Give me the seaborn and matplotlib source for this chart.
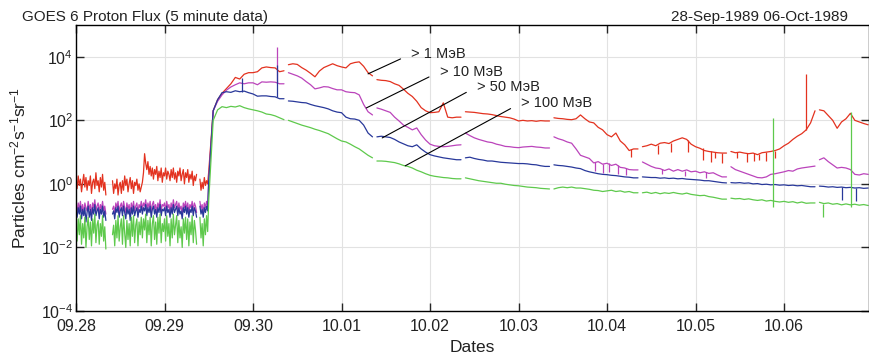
import numpy as np
import pandas as pd
import matplotlib
matplotlib.use("Agg")
import matplotlib.pyplot as plt
import seaborn as sns

# GOES 6 proton channels, values are log10 of the flux
channels = ["> 1 МэВ", "> 10 МэВ", "> 50 МэВ", "> 100 МэВ"]
colors = ["#e3321f", "#bb44bb", "#28389a", "#5ec94c"]
date_labels = ["09.28", "09.29", "09.30", "10.01", "10.02",
               "10.03", "10.04", "10.05", "10.06"]

# daily data gaps (days after 28-Sep 00:00)
gap_start = [0.35, 1.37, 2.36, 3.36, 4.36, 5.36, 6.36, 7.36, 8.36]
gap_end = [0.41, 1.39, 2.39, 3.39, 4.39, 5.39, 6.39, 7.39, 8.39]

# quiet part: 28-Sep 00:00 .. 29-Sep 11:42, every 0.0125 day
red_quiet = [0.10, -0.15, 0.25, -0.05, 0.15, -0.25, 0.05, 0.30, -0.10, 0.20,
             -0.20, 0.10, -0.05, 0.25, -0.30, 0.05, 0.15, -0.15, 0.35, -0.05,
             0.10, -0.25, 0.20, -0.10, 0.30, -0.20, 0.05, -0.35, 0.15, 0.00,
             -0.10, 0.05, -0.25, 0.10, -0.30, 0.00, -0.15, 0.15, -0.35, -0.05,
             0.05, -0.30, 0.10, -0.20, 0.25, -0.05, 0.15, -0.25, 0.00, 0.20,
             -0.15, 0.10, -0.30, 0.05, -0.05, 0.15, -0.20, 0.00, -0.25, -0.10,
             0.05, 0.35, 0.95, 0.65, 0.45, 0.70, 0.30, 0.55, 0.25, 0.50,
             0.15, 0.45, 0.30, 0.55, 0.10, 0.40, 0.20, 0.50, 0.05, 0.35,
             0.25, 0.50, 0.15, 0.40, 0.30, 0.10, 0.45, 0.20, 0.50, 0.15,
             0.35, 0.05, 0.40, 0.25, 0.50, 0.10, 0.30, 0.45, 0.00, 0.35,
             0.20, 0.45, 0.05, 0.30, 0.15, 0.40, -0.05, 0.25, 0.10, 0.30,
             0.10, -0.10, 0.15, -0.20, 0.05, -0.15, 0.20, -0.05, 0.10, 0.00]
mag_quiet = [-0.70, -0.90, -0.60, -0.80, -0.55, -0.85, -0.65, -0.95, -0.60, -0.75,
             -0.85, -0.55, -0.80, -0.65, -0.95, -0.60, -0.75, -0.50, -0.85, -0.70,
             -0.60, -0.90, -0.65, -0.80, -0.55, -0.85, -0.70, -0.95, -0.60, -0.75,
             -0.65, -0.85, -0.55, -0.80, -0.70, -0.95, -0.60, -0.75, -0.55, -0.90,
             -0.70, -0.60, -0.85, -0.55, -0.75, -0.90, -0.60, -0.80, -0.65, -0.95,
             -0.60, -0.80, -0.55, -0.85, -0.70, -0.60, -0.90, -0.65, -0.75, -0.55,
             -0.80, -0.60, -0.70, -0.50, -0.85, -0.60, -0.75, -0.55, -0.90, -0.65,
             -0.55, -0.80, -0.65, -0.90, -0.60, -0.75, -0.50, -0.85, -0.65, -0.70,
             -0.60, -0.85, -0.55, -0.75, -0.65, -0.90, -0.60, -0.80, -0.50, -0.75,
             -0.65, -0.55, -0.85, -0.60, -0.80, -0.70, -0.95, -0.60, -0.75, -0.55,
             -0.80, -0.60, -0.90, -0.65, -0.75, -0.55, -0.85, -0.60, -0.70, -0.90,
             -0.60, -0.85, -0.55, -0.80, -0.65, -0.90, -0.60, -0.75, -0.55, -0.70]
blue_quiet = [-0.85, -1.05, -0.75, -0.95, -0.70, -1.10, -0.80, -1.00, -0.75, -1.20,
              -0.90, -0.70, -1.05, -0.80, -1.15, -0.75, -0.95, -0.65, -1.00, -0.85,
              -0.75, -1.10, -0.80, -0.95, -0.70, -1.05, -0.85, -1.15, -0.75, -0.90,
              -0.80, -1.00, -0.70, -0.95, -0.85, -1.10, -0.75, -0.90, -0.70, -1.05,
              -0.85, -0.75, -1.00, -0.70, -0.90, -1.10, -0.75, -0.95, -0.80, -1.15,
              -0.75, -0.95, -0.70, -1.00, -0.85, -0.75, -1.05, -0.80, -0.90, -0.70,
              -0.95, -0.75, -0.85, -0.65, -1.00, -0.75, -0.90, -0.70, -1.05, -0.80,
              -0.70, -0.95, -0.80, -1.05, -0.75, -0.90, -0.65, -1.00, -0.80, -0.85,
              -0.75, -1.00, -0.70, -0.90, -0.80, -1.05, -0.75, -0.95, -0.65, -0.90,
              -0.80, -0.70, -1.00, -0.75, -0.95, -0.85, -1.10, -0.75, -0.90, -0.70,
              -0.95, -0.75, -1.05, -0.80, -0.90, -0.70, -1.00, -0.75, -0.85, -1.05,
              -0.75, -1.00, -0.70, -0.95, -0.80, -1.05, -0.75, -0.90, -0.70, -0.85]
green_quiet = [-1.30, -1.80, -1.10, -1.60, -1.00, -1.90, -1.25, -1.70, -1.05, -2.00,
               -1.35, -1.05, -1.75, -1.20, -1.95, -1.10, -1.55, -0.95, -1.85, -1.30,
               -1.15, -1.90, -1.25, -1.65, -1.00, -1.80, -1.35, -2.05, -1.10, -1.50,
               -1.25, -1.85, -1.05, -1.60, -1.30, -1.95, -1.15, -1.70, -1.00, -1.80,
               -1.35, -1.10, -1.90, -1.00, -1.55, -2.00, -1.15, -1.75, -1.25, -1.95,
               -1.05, -1.65, -1.00, -1.85, -1.30, -1.10, -1.95, -1.20, -1.60, -1.05,
               -1.70, -1.10, -1.45, -0.95, -1.85, -1.15, -1.60, -1.05, -1.95, -1.25,
               -1.00, -1.75, -1.20, -1.90, -1.05, -1.55, -0.95, -1.85, -1.25, -1.50,
               -1.10, -1.80, -1.00, -1.65, -1.25, -1.95, -1.10, -1.70, -0.95, -1.60,
               -1.30, -1.00, -1.85, -1.15, -1.70, -1.35, -2.00, -1.10, -1.55, -1.05,
               -1.75, -1.10, -1.95, -1.20, -1.60, -1.00, -1.85, -1.15, -1.45, -1.90,
               -1.15, -1.80, -1.05, -1.70, -1.25, -1.95, -1.10, -1.60, -1.00, -1.50]

# event part: 29-Sep 12:00 .. 06-Oct 22:48, every 0.05 day
red_event = [0.40, 2.30, 2.65, 2.85, 3.00, 3.15, 3.35, 3.30, 3.45, 3.50,
             3.50, 3.53, 3.65, 3.68, 3.66, 3.65, 3.53, 3.56, 3.75, 3.78,
             3.76, 3.66, 3.58, 3.48, 3.37, 3.55, 3.66, 3.72, 3.78, 3.72,
             3.68, 3.65, 3.78, 3.82, 3.84, 3.70, 3.50, 3.40, 3.28, 3.26,
             3.25, 3.22, 3.15, 3.10, 2.98, 2.85, 2.75, 2.60, 2.40, 2.30,
             2.24, 2.25, 2.27, 2.55, 2.10, 2.08, 2.10, 2.10, 2.27, 2.26,
             2.25, 2.23, 2.21, 2.20, 2.18, 2.15, 2.12, 2.10, 2.08, 2.04,
             1.98, 2.00, 1.98, 1.99, 1.97, 1.99, 1.98, 1.98, 2.08, 2.06,
             2.05, 2.03, 2.02, 2.05, 2.17, 2.05, 1.95, 1.92, 1.78, 1.70,
             1.55, 1.48, 1.60, 1.35, 1.23, 1.05, 1.10, 1.10, 1.17, 1.20,
             1.25, 1.20, 1.28, 1.30, 1.27, 1.35, 1.40, 1.45, 1.40, 1.25,
             1.17, 1.12, 1.05, 1.02, 1.00, 0.98, 0.97, 0.97, 1.02, 0.98,
             1.00, 0.97, 0.95, 0.97, 0.92, 0.98, 1.00, 1.02, 1.05, 1.10,
             1.20, 1.28, 1.40, 1.50, 1.58, 1.70, 1.92, 2.30, 2.33, 2.30,
             2.15, 2.00, 1.75, 1.95, 2.05, 2.22, 2.00, 1.95, 1.90, 1.86]
mag_event = [0.20, 2.30, 2.60, 2.80, 2.95, 3.05, 3.12, 3.18, 3.15, 3.18,
             3.18, 3.12, 3.21, 3.20, 3.21, 3.20, 3.15, 3.15, 3.50, 3.45,
             3.40, 3.33, 3.22, 3.12, 2.99, 3.02, 3.06, 3.05, 3.00, 2.96,
             2.96, 2.90, 2.88, 2.87, 2.80, 2.50, 2.27, 2.17, 2.39, 2.35,
             2.30, 2.25, 2.10, 1.98, 1.85, 1.78, 1.70, 1.76, 1.55, 1.38,
             1.25, 1.20, 1.18, 1.17, 1.18, 1.20, 1.22, 1.23, 1.60, 1.52,
             1.45, 1.40, 1.36, 1.32, 1.30, 1.25, 1.22, 1.18, 1.17, 1.15,
             1.14, 1.16, 1.17, 1.18, 1.16, 1.15, 1.13, 1.13, 1.48, 1.42,
             1.38, 1.32, 1.28, 1.10, 0.90, 0.85, 0.80, 0.66, 0.70, 0.62,
             0.65, 0.58, 0.62, 0.52, 0.50, 0.45, 0.44, 0.44, 0.69, 0.62,
             0.55, 0.50, 0.48, 0.42, 0.47, 0.40, 0.45, 0.40, 0.44, 0.38,
             0.40, 0.35, 0.38, 0.33, 0.35, 0.28, 0.22, 0.22, 0.54, 0.45,
             0.40, 0.35, 0.30, 0.25, 0.20, 0.19, 0.22, 0.30, 0.32, 0.35,
             0.38, 0.42, 0.40, 0.47, 0.50, 0.52, 0.54, 0.56, 0.76, 0.82,
             0.70, 0.60, 0.50, 0.52, 0.50, 0.45, 0.30, 0.28, 0.32, 0.30]
blue_event = [0.10, 2.30, 2.65, 2.87, 2.90, 2.88, 2.93, 2.90, 2.92, 2.87,
              2.83, 2.76, 2.77, 2.77, 2.75, 2.74, 2.68, 2.68, 2.61, 2.60,
              2.58, 2.56, 2.55, 2.50, 2.46, 2.43, 2.40, 2.36, 2.30, 2.26,
              2.24, 2.10, 2.05, 2.04, 2.00, 1.85, 1.60, 1.48, 1.48, 1.50,
              1.48, 1.46, 1.40, 1.32, 1.26, 1.20, 1.17, 1.23, 1.10, 1.00,
              0.92, 0.88, 0.85, 0.82, 0.80, 0.78, 0.76, 0.76, 0.82, 0.84,
              0.80, 0.77, 0.75, 0.72, 0.72, 0.70, 0.68, 0.67, 0.66, 0.65,
              0.64, 0.64, 0.63, 0.61, 0.60, 0.57, 0.55, 0.55, 0.60, 0.58,
              0.57, 0.55, 0.53, 0.50, 0.48, 0.42, 0.38, 0.35, 0.32, 0.30,
              0.29, 0.27, 0.26, 0.24, 0.22, 0.21, 0.19, 0.19, 0.22, 0.21,
              0.20, 0.20, 0.18, 0.19, 0.17, 0.18, 0.16, 0.17, 0.15, 0.14,
              0.13, 0.12, 0.10, 0.10, 0.08, 0.06, 0.04, 0.03, 0.04, 0.03,
              0.04, 0.02, 0.03, 0.00, 0.01, -0.02, -0.01, -0.03, -0.02, -0.04,
              -0.03, -0.05, -0.04, -0.06, -0.05, -0.07, -0.09, -0.09, -0.07, -0.08,
              -0.10, -0.09, -0.11, -0.10, -0.12, -0.11, -0.13, -0.12, -0.14, -0.13]
green_event = [-0.50, 2.00, 2.33, 2.43, 2.40, 2.44, 2.42, 2.46, 2.40, 2.36,
               2.33, 2.30, 2.26, 2.20, 2.18, 2.14, 2.08, 2.02, 2.00, 1.95,
               1.90, 1.85, 1.81, 1.77, 1.72, 1.68, 1.63, 1.58, 1.50, 1.42,
               1.35, 1.32, 1.25, 1.17, 1.10, 1.00, 0.90, 0.82, 0.72, 0.72,
               0.71, 0.69, 0.67, 0.63, 0.58, 0.55, 0.50, 0.43, 0.38, 0.32,
               0.27, 0.24, 0.22, 0.20, 0.19, 0.17, 0.16, 0.16, 0.19, 0.16,
               0.13, 0.10, 0.08, 0.06, 0.04, 0.02, 0.02, -0.01, -0.03, -0.05,
               -0.06, -0.08, -0.10, -0.11, -0.12, -0.14, -0.15, -0.16, -0.16, -0.12,
               -0.10, -0.12, -0.10, -0.13, -0.13, -0.15, -0.17, -0.20, -0.21, -0.24,
               -0.22, -0.20, -0.24, -0.22, -0.26, -0.24, -0.28, -0.28, -0.28, -0.26,
               -0.30, -0.27, -0.31, -0.28, -0.30, -0.27, -0.30, -0.32, -0.29, -0.33,
               -0.35, -0.37, -0.36, -0.40, -0.42, -0.45, -0.48, -0.48, -0.45, -0.47,
               -0.46, -0.49, -0.47, -0.50, -0.52, -0.50, -0.54, -0.52, -0.55, -0.57,
               -0.55, -0.58, -0.56, -0.60, -0.57, -0.61, -0.60, -0.60, -0.58, -0.62,
               -0.60, -0.64, -0.62, -0.66, -0.63, -0.66, -0.64, -0.67, -0.65, -0.68]

# short single-sample spikes (day, log10 low, log10 high)
red_spk_day = [8.25, 6.27, 6.58, 6.72, 6.92, 7.08, 7.17, 7.22, 7.30, 7.47, 7.58, 7.66, 7.72, 7.80, 7.90]
red_spk_lo = [1.70, 0.85, 0.95, 1.00, 1.00, 0.75, 0.69, 0.80, 0.66, 0.80, 0.70, 0.72, 0.75, 0.72, 0.80]
red_spk_hi = [3.46, 1.10, 1.22, 1.28, 1.38, 1.12, 1.02, 1.00, 0.97, 1.00, 0.96, 0.97, 0.95, 1.00, 1.05]
mag_spk_day = [2.27, 5.86, 5.95, 6.02, 6.12, 6.22, 6.62, 6.88, 7.12]
mag_spk_lo = [3.20, 0.40, 0.35, 0.38, 0.30, 0.28, 0.30, 0.25, 0.18]
mag_spk_hi = [4.30, 0.70, 0.64, 0.65, 0.58, 0.50, 0.48, 0.42, 0.36]
blue_spk_day = [1.88, 2.27, 8.66, 8.81]
blue_spk_lo = [2.90, 2.74, -0.50, -0.55]
blue_spk_hi = [3.34, 3.75, -0.10, -0.12]
green_spk_day = [7.88, 8.76, 8.44]
green_spk_lo = [-0.72, -0.72, -1.04]
green_spk_hi = [2.08, 2.27, -0.62]

quiet = [red_quiet, mag_quiet, blue_quiet, green_quiet]
event = [red_event, mag_event, blue_event, green_event]
spikes = [(red_spk_day, red_spk_lo, red_spk_hi), (mag_spk_day, mag_spk_lo, mag_spk_hi),
          (blue_spk_day, blue_spk_lo, blue_spk_hi), (green_spk_day, green_spk_lo, green_spk_hi)]

frames = []
for ch, q, e in zip(channels, quiet, event):
    t = np.concatenate([np.arange(len(q)) * 0.0125, 1.5 + np.arange(len(e)) * 0.05])
    v = np.array(q + e)
    seg = np.searchsorted(gap_start, t)  # data gaps split the line
    in_gap = np.zeros(len(t), dtype=bool)
    for g0, g1 in zip(gap_start, gap_end):
        in_gap |= (t > g0) & (t < g1)
    d = pd.DataFrame({"day": t, "flux": 10.0 ** v, "channel": ch, "seg": seg})
    frames.append(d[~in_gap])
df = pd.concat(frames, ignore_index=True)

sns.set_style("ticks")
plt.rcParams["font.family"] = ["Liberation Sans", "DejaVu Sans"]
plt.rcParams["mathtext.fontset"] = "custom"
plt.rcParams["mathtext.rm"] = "Liberation Sans"
plt.rcParams["mathtext.it"] = "Liberation Sans:italic"

fig = plt.figure(figsize=(8.7, 3.6), dpi=100)
ax = fig.add_axes([76 / 870, 49 / 360, 793 / 870, 286 / 360])

sns.lineplot(data=df, x="day", y="flux", hue="channel", hue_order=channels,
             units="seg", estimator=None, palette=colors, lw=0.9,
             legend=False, ax=ax)

for (sd, lo, hi), c in zip(spikes, colors):
    ax.vlines(sd, 10.0 ** np.array(lo), 10.0 ** np.array(hi), color=c, lw=0.9)

ax.set_yscale("log")
ax.set_ylim(1e-4, 1e5)
ax.set_yticks([1e-4, 1e-2, 1e0, 1e2, 1e4])
ax.yaxis.set_minor_locator(matplotlib.ticker.NullLocator())
ax.set_xlim(0, 8.96)
ax.set_xticks(range(len(date_labels)))
ax.set_xticklabels(date_labels)

ax.grid(True, color="#e2e2e2", lw=0.8)
ax.set_axisbelow(True)
for s in ax.spines.values():
    s.set_visible(True)
    s.set_color("black")
    s.set_linewidth(1.0)
ax.tick_params(direction="in", top=True, right=True, length=6, width=1,
               labelsize=11.5, labelcolor="#222222")
ax.tick_params(axis="x", pad=6)
ax.tick_params(axis="y", pad=2)

ax.set_xlabel("Dates", fontsize=12.5, color="#222222")
ax.set_ylabel("Particles cm$^{-2}$s$^{-1}$sr$^{-1}$", fontsize=12.5, color="#222222")
ax.xaxis.set_label_coords(0.5, -0.10)
ax.yaxis.set_label_coords(-0.06, 0.5)

fig.text(22 / 870, 1 - 21 / 360, "GOES 6 Proton Flux (5 minute data)",
         fontsize=11, va="baseline", ha="left", color="#222222")
fig.text(848 / 870, 1 - 21 / 360, "28-Sep-1989 06-Oct-1989",
         fontsize=11, va="baseline", ha="right", color="#222222")

# channel labels with leader lines
label_pos = [((3.30, 2.9e3), (3.79, 1.23e4)),
             ((3.28, 245), (4.11, 3.4e3)),
             ((3.46, 28), (4.53, 1.15e3)),
             ((3.72, 3.7), (5.03, 355))]
for ch, (xy, xyt) in zip(channels, label_pos):
    ax.annotate(ch, xy=xy, xytext=xyt, fontsize=10.5, va="center", ha="left",
                color="#222222",
                arrowprops=dict(arrowstyle="-", color="black", lw=0.8,
                                relpos=(0, 0.5), shrinkA=6, shrinkB=0))

fig.savefig("out.png", dpi=100)
